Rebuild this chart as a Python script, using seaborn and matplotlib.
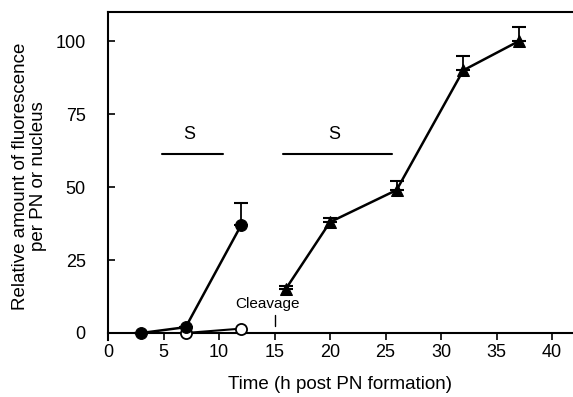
import matplotlib
matplotlib.use("Agg")
import matplotlib.pyplot as plt
import seaborn as sns
import pandas as pd

# Data
filled_t = [3, 7, 12]
filled_v = [0, 2, 37]
filled_err = [0, 0, 7.5]

open_t = [7, 12]
open_v = [0, 1.5]

tri_t = [16, 20, 26, 32, 37]
tri_v = [15, 38, 49, 90, 100]
tri_err = [1, 1.5, 3, 5, 5]

s_bars = [(4.9, 10.4), (15.8, 25.6)]
s_labels = ["S", "S"]
xticks = [0, 5, 10, 15, 20, 25, 30, 35, 40]
yticks = [0, 25, 50, 75, 100]

sns.set_theme(style="white")
plt.rcParams['font.family'] = ['Liberation Sans', 'DejaVu Sans']
plt.rcParams['text.color'] = 'black'
plt.rcParams['axes.labelcolor'] = 'black'
plt.rcParams['xtick.color'] = 'black'
plt.rcParams['ytick.color'] = 'black'

fig = plt.figure(figsize=(5.73, 3.97), dpi=100)
ax = fig.add_axes([108/573, 57/397, 464/573, 328/397])

df_f = pd.DataFrame({"t": filled_t, "v": filled_v})
df_o = pd.DataFrame({"t": open_t, "v": open_v})
df_t = pd.DataFrame({"t": tri_t, "v": tri_v})

# error bars (upper only)
ax.errorbar(filled_t, filled_v, yerr=[[0]*len(filled_err), filled_err], fmt='none',
            ecolor='black', elinewidth=1.3, capsize=5, capthick=1.5, zorder=2)
ax.errorbar(tri_t, tri_v, yerr=[[0]*len(tri_err), tri_err], fmt='none',
            ecolor='black', elinewidth=1.3, capsize=5, capthick=1.5, zorder=2)

sns.lineplot(data=df_o, x="t", y="v", ax=ax, color="black", linewidth=1.5,
             marker="o", markersize=8, markerfacecolor="white",
             markeredgecolor="black", markeredgewidth=1.3, zorder=3)
sns.lineplot(data=df_f, x="t", y="v", ax=ax, color="black", linewidth=1.8,
             marker="o", markersize=8.5, markerfacecolor="black",
             markeredgecolor="black", zorder=4)
sns.lineplot(data=df_t, x="t", y="v", ax=ax, color="black", linewidth=1.8,
             marker="^", markersize=9, markerfacecolor="black",
             markeredgecolor="black", zorder=4)

# S bars
for (x0, x1), lab in zip(s_bars, s_labels):
    ax.plot([x0, x1], [61.5, 61.5], color="black", linewidth=1.5)
    ax.text((x0 + x1) / 2 - 0.3, 68, lab, ha="center", va="center", fontsize=13)

# Cleavage annotation
ax.text(14.4, 9.8, "Cleavage", ha="center", va="center", fontsize=11)
ax.plot([15, 15], [2.4, 6.2], color="black", linewidth=1)

ax.set_xlim(0, 41.8)
ax.set_ylim(-2.4, 110)
ax.set_xticks(xticks)
ax.set_yticks(yticks)
ax.tick_params(axis='x', direction='out', length=5, width=1.2, labelsize=13,
               bottom=True, pad=3)
ax.tick_params(axis='y', direction='in', length=5, width=1.2, labelsize=13,
               left=True, pad=16)

for s in ['left', 'top', 'bottom']:
    ax.spines[s].set_visible(True)
    ax.spines[s].set_color('black')
    ax.spines[s].set_linewidth(1.5)
ax.spines['right'].set_visible(False)
ax.spines['bottom'].set_position(('data', 0))

ax.set_xlabel("Time (h post PN formation)", fontsize=13.5, labelpad=11)
ax.set_ylabel("Relative amount of fluorescence\nper PN or nucleus", fontsize=13.5,
              labelpad=6, linespacing=1.1)
ax.grid(False)

fig.savefig("out.png", dpi=100)
